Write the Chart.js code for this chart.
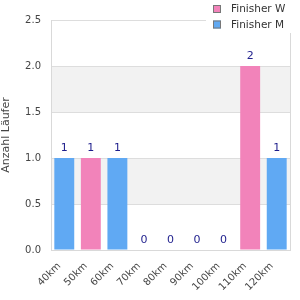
<!DOCTYPE html>
<html>
<head>
<meta charset="utf-8">
<script src="https://cdn.jsdelivr.net/npm/chart.js@4/dist/chart.umd.min.js"></script>
<style>
html,body{margin:0;padding:0;background:#fff;}
#wrap{width:300px;height:300px;position:relative;}
</style>
</head>
<body>
<div id="wrap"><canvas id="c" width="300" height="300"></canvas></div>
<script>
const categories = ["40km","50km","60km","70km","80km","90km","100km","110km","120km"];
const finisherW = [0,1,0,0,0,0,0,2,0];
const finisherM = [1,0,1,0,0,0,0,0,1];
const seriesNames = ["Finisher W","Finisher M"];
const seriesColors = ["#f283ba","#60a9f3"];
const yTitle = "Anzahl Läufer";

const FONT = "'DejaVu Sans', sans-serif";

const bandsPlugin = {
  id: 'bands',
  beforeDraw(chart) {
    const {ctx, chartArea, scales} = chart;
    const y = scales.y;
    const ticks = y.ticks;
    ctx.save();
    ctx.fillStyle = '#f2f2f2';
    for (let i = 0; i < ticks.length - 1; i++) {
      if (i % 2 === 1) {
        const y0 = y.getPixelForValue(ticks[i].value);
        const y1 = y.getPixelForValue(ticks[i+1].value);
        ctx.fillRect(chartArea.left, y1, chartArea.right - chartArea.left, y0 - y1);
      }
    }
    ctx.restore();
  }
};

const overlayPlugin = {
  id: 'overlay',
  afterDatasetsDraw(chart) {
    const {ctx, chartArea, scales} = chart;
    ctx.save();
    ctx.strokeStyle = '#d9d9d9';
    ctx.lineWidth = 1;
    ctx.beginPath();
    ctx.moveTo(Math.round(chartArea.right) + 0.5, chartArea.top);
    ctx.lineTo(Math.round(chartArea.right) + 0.5, chartArea.bottom);
    ctx.stroke();
    ctx.fillStyle = '#1e1e8c';
    ctx.font = '11px ' + FONT;
    ctx.textAlign = 'center';
    ctx.textBaseline = 'bottom';
    categories.forEach((c, i) => {
      const total = finisherW[i] + finisherM[i];
      const x = scales.x.getPixelForValue(i);
      const yy = scales.y.getPixelForValue(total);
      ctx.fillText(String(total), x, yy - 4);
    });
    ctx.restore();
    // category labels rotated 45 degrees, ending just left of each tick
    ctx.save();
    ctx.fillStyle = '#444';
    ctx.font = '10px ' + FONT;
    ctx.textAlign = 'right';
    ctx.textBaseline = 'middle';
    const c = Math.SQRT1_2;
    categories.forEach((lab, i) => {
      const x = scales.x.getPixelForValue(i) - 5;
      const y = chartArea.bottom + 14.5;
      ctx.setTransform(c, -c, c, c, x, y);
      ctx.fillText(lab, 0, 0);
    });
    ctx.restore();
  },
  afterDraw(chart) {
    const {ctx} = chart;
    ctx.save();
    ctx.fillStyle = '#fff';
    ctx.fillRect(206, 0, 94, 33);
    ctx.font = '10.5px ' + FONT;
    ctx.textBaseline = 'middle';
    ctx.textAlign = 'left';
    seriesNames.forEach((n, i) => {
      const by = 5 + i * 15.5;
      ctx.fillStyle = seriesColors[i];
      ctx.fillRect(213, by, 8, 8);
      ctx.strokeStyle = '#777';
      ctx.lineWidth = 1;
      ctx.strokeRect(213.5, by + 0.5, 7, 7);
      ctx.fillStyle = '#333';
      ctx.fillText(n, 231, by + 4.5);
    });
    ctx.restore();
  }
};

new Chart(document.getElementById('c'), {
  type: 'bar',
  data: {
    labels: categories,
    datasets: [
      {label: seriesNames[0], data: finisherW, backgroundColor: seriesColors[0], borderWidth: 0, barPercentage: 0.75, categoryPercentage: 1},
      {label: seriesNames[1], data: finisherM, backgroundColor: seriesColors[1], borderWidth: 0, barPercentage: 0.75, categoryPercentage: 1}
    ]
  },
  options: {
    responsive: false,
    animation: false,
    layout: {padding: {top: 20, right: 10, left: 0, bottom: 0}},
    plugins: {legend: {display: false}, tooltip: {enabled: false}},
    scales: {
      x: {
        stacked: true,
        grid: {display: false, drawTicks: false},
        border: {display: true, color: '#d9d9d9'},
        ticks: {display: false, autoSkip: false},
        afterFit(s) { s.height = 50; }
      },
      y: {
        stacked: true,
        min: 0, max: 2.5,
        grid: {color: '#dddddd', drawTicks: false},
        border: {display: true, color: '#d9d9d9'},
        ticks: {stepSize: 0.5, color: '#444', font: {family: FONT, size: 10}, padding: 10,
          callback: v => Number(v).toFixed(1)},
        title: {display: true, text: yTitle, color: '#444', font: {family: FONT, size: 11}, padding: {top: 0, bottom: 4}},
        afterFit(s) { s.width = 51; }
      }
    }
  },
  plugins: [bandsPlugin, overlayPlugin]
});
</script>
</body>
</html>
